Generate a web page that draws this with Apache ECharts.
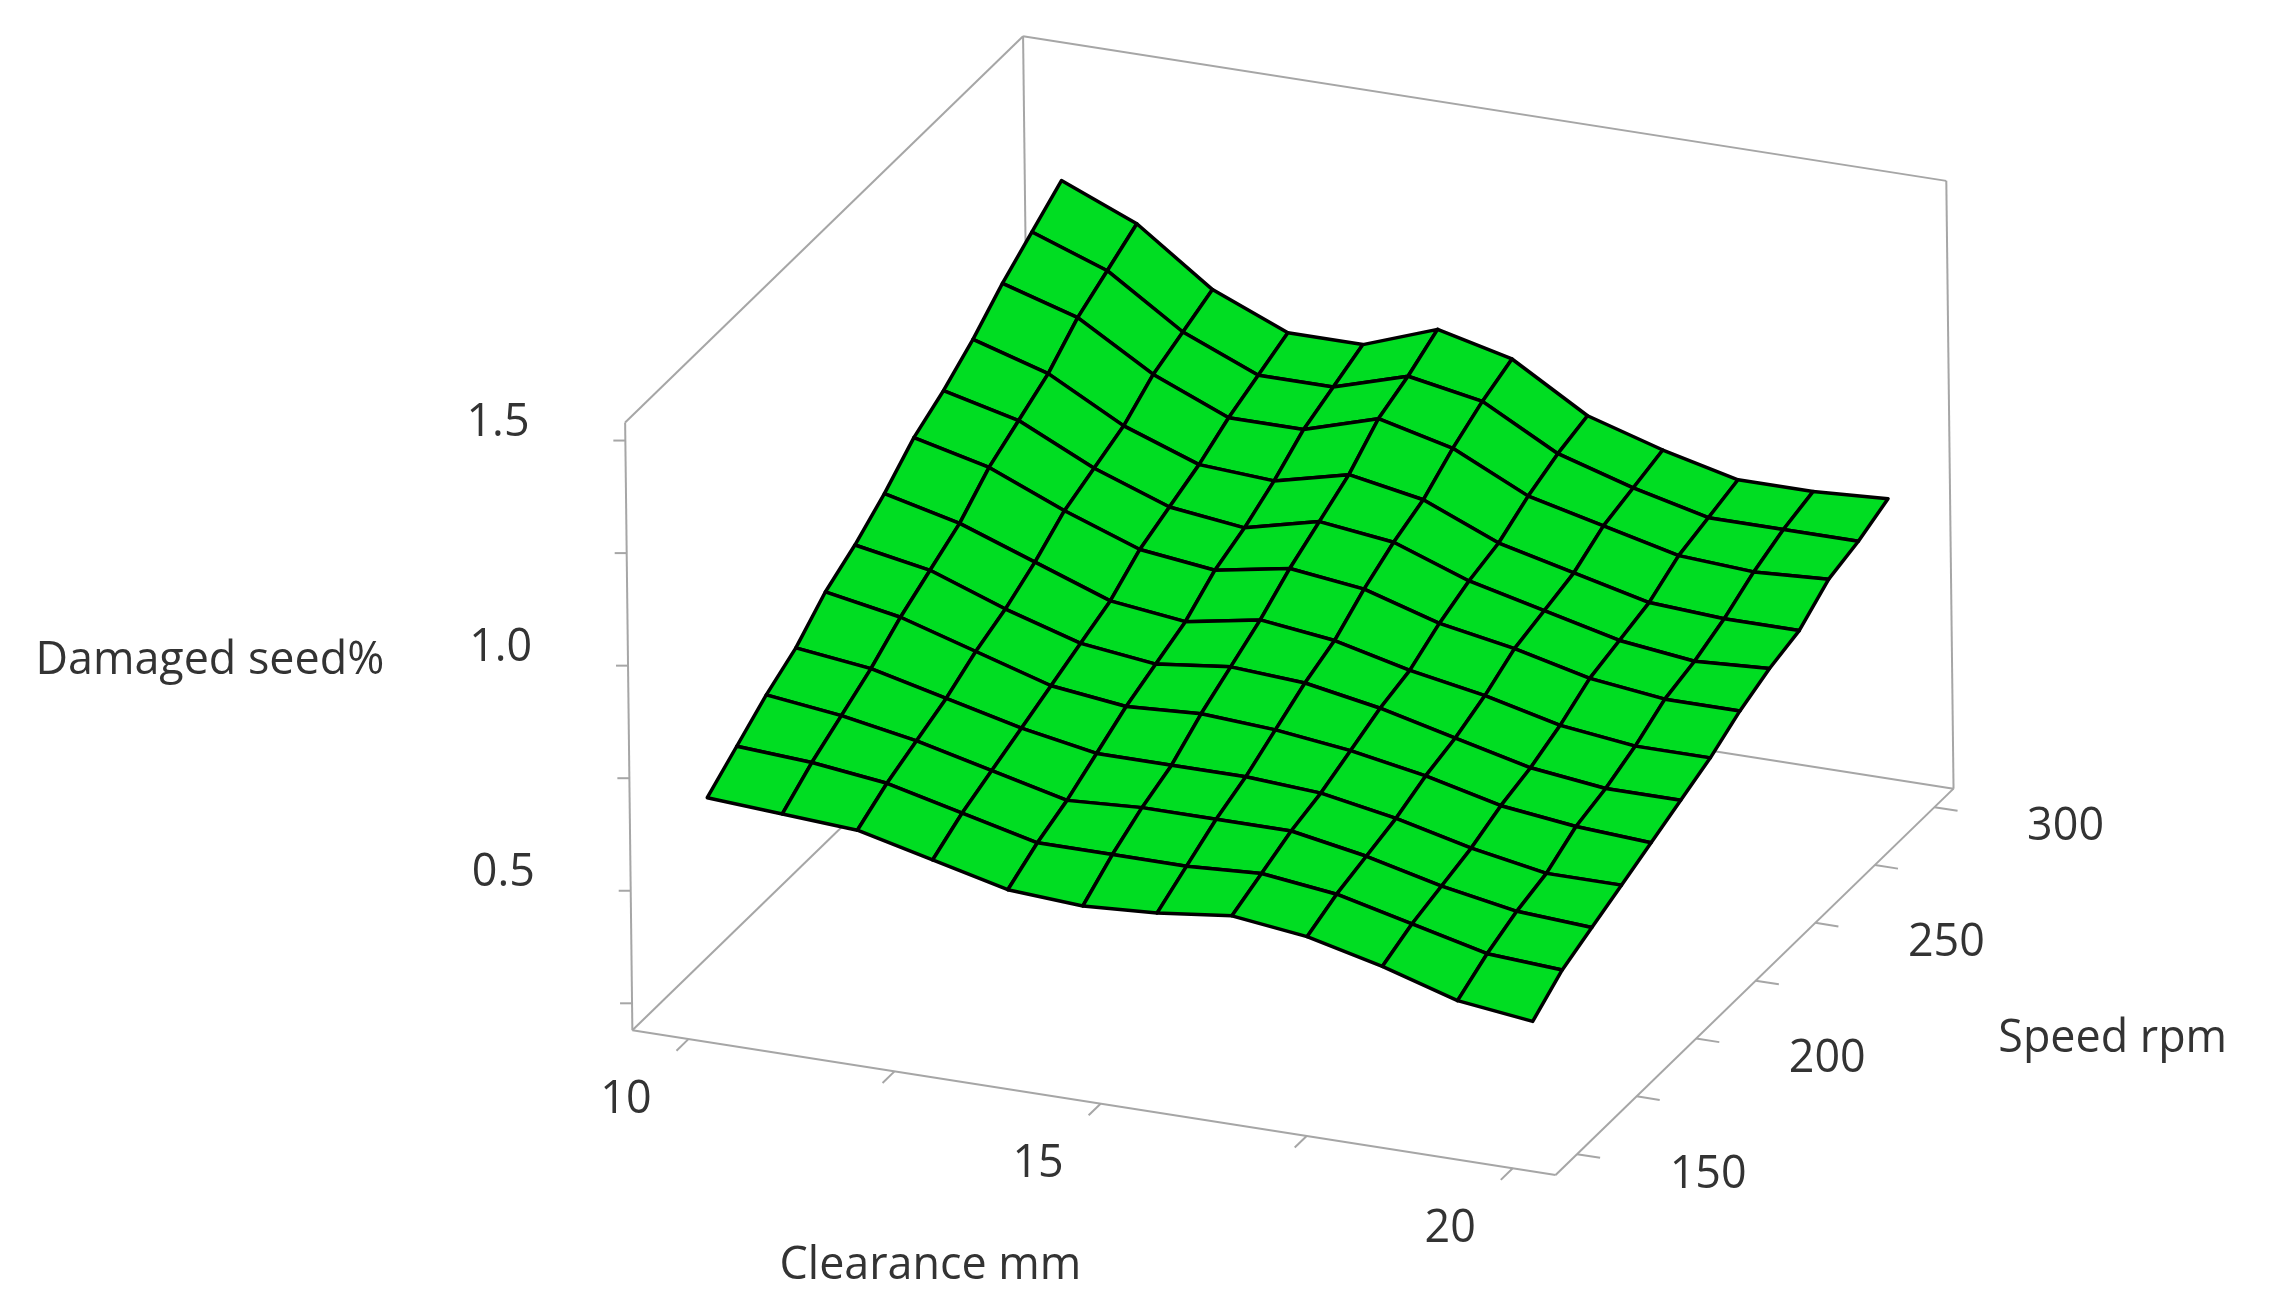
<!DOCTYPE html>
<html>
<head>
<meta charset="utf-8">
<script src="https://cdn.jsdelivr.net/npm/echarts@6/dist/echarts.min.js"></script>
<style>html,body{margin:0;padding:0;background:#fff}#chart{width:2269px;height:1312px}</style>
</head>
<body>
<div id="chart"></div>
<script>
// surface grid (Clearance mm x Speed rpm), z = Damaged seed %
var clearance = [10, 10.91, 11.82, 12.73, 13.64, 14.55, 15.45, 16.36, 17.27, 18.18, 19.09, 20];
var speed = [150, 162.5, 175, 187.5, 200, 212.5, 225, 237.5, 250, 262.5, 275, 287.5, 300];
var damaged = [
    [0.68,0.67,0.66,0.62,0.58,0.57,0.58,0.60,0.58,0.54,0.49,0.47],
    [0.73,0.72,0.70,0.66,0.62,0.62,0.62,0.63,0.61,0.57,0.53,0.52],
    [0.78,0.76,0.73,0.69,0.65,0.66,0.66,0.66,0.63,0.59,0.56,0.55],
    [0.82,0.80,0.76,0.72,0.69,0.69,0.69,0.68,0.65,0.61,0.58,0.58],
    [0.88,0.85,0.80,0.75,0.73,0.74,0.73,0.71,0.68,0.64,0.62,0.61],
    [0.92,0.89,0.83,0.78,0.76,0.78,0.77,0.74,0.70,0.66,0.64,0.64],
    [0.97,0.93,0.87,0.81,0.79,0.82,0.80,0.76,0.73,0.69,0.67,0.67],
    [1.03,0.99,0.92,0.86,0.84,0.87,0.85,0.80,0.77,0.73,0.71,0.71],
    [1.07,1.03,0.95,0.89,0.87,0.91,0.89,0.83,0.79,0.75,0.73,0.74],
    [1.12,1.07,0.98,0.92,0.91,0.95,0.92,0.85,0.81,0.77,0.76,0.76],
    [1.18,1.13,1.03,0.96,0.96,1.01,0.97,0.89,0.85,0.81,0.80,0.81],
    [1.23,1.17,1.06,0.99,0.99,1.04,1.01,0.92,0.87,0.83,0.83,0.83],
    [1.28,1.21,1.09,1.02,1.02,1.08,1.04,0.94,0.89,0.85,0.85,0.86]
];
var xTicks = [10, 12.5, 15, 17.5, 20];
var xLabels = [10, 15, 20];
var yTicks = [150, 175, 200, 225, 250, 275, 300];
var yLabels = [150, 200, 250, 300];
var zTicks = [0.25, 0.5, 0.75, 1.0, 1.25, 1.5];
var zLabels = ['0.5', '1.0', '1.5'];

// box ranges
var X0 = 9.32, X1 = 20.52, Y0 = 141, Y1 = 308, Z0 = 0.19, Z1 = 1.54;
var S = 2269 / 1568;   // picture was measured at 1568 px wide
var W = 1568, H = 1312 / S;

// oblique projection into the picture's plane
var proj = function(x, y, z){
    var a = (x - X0) / (X1 - X0), b = (y - Y0) / (Y1 - Y0), c = (z - Z0) / (Z1 - Z0);
    return [437 + 638 * a + 275 * b - 5 * c, 712 + 100 * a - 267 * b - 420 * c];
};
var depth = function(x, y){
    return 100 * (x - X0) / (X1 - X0) - 267 * (y - Y0) / (Y1 - Y0);
};

// cells, far ones first
var cells = [];
for (var j = 0; j < speed.length - 1; j++) {
    for (var i = 0; i < clearance.length - 1; i++) {
        cells.push([i, j, depth((clearance[i] + clearance[i+1]) / 2, (speed[j] + speed[j+1]) / 2)]);
    }
}
cells.sort(function(p, q){ return p[2] - q[2]; });

var edges = [
    [X0,Y0,Z0, X0,Y0,Z1], [X0,Y1,Z0, X0,Y1,Z1], [X1,Y1,Z0, X1,Y1,Z1],
    [X0,Y0,Z1, X0,Y1,Z1], [X0,Y1,Z1, X1,Y1,Z1],
    [X0,Y0,Z0, X1,Y0,Z0], [X1,Y0,Z0, X1,Y1,Z0], [X0,Y1,Z0, X1,Y1,Z0], [X0,Y0,Z0, X0,Y1,Z0]
];
xTicks.forEach(function(v){
    edges.push([v, Y0, Z0, v, Y0 - 0.03 * (Y1 - Y0), Z0]);
});
yTicks.forEach(function(v){
    edges.push([X1, v, Z0, X1 + 0.025 * (X1 - X0), v, Z0]);
});

var fontFamily = '"Open Sans", "Noto Sans", sans-serif';
var txtColor = '#333';
var fs = 31 * S;

var labels = [];
xLabels.forEach(function(v){
    var p = proj(v, Y0 - 0.157 * (Y1 - Y0), Z0);
    labels.push([p[0], p[1], String(v)]);
});
yLabels.forEach(function(v){
    var p = proj(X1 + 0.142 * (X1 - X0), v, Z0);
    labels.push([p[0], p[1], String(v)]);
});

var chart = echarts.init(document.getElementById('chart'));

var option = {
    backgroundColor: '#fff',
    animation: false,
    grid: {left: 0, right: 0, top: 0, bottom: 0},
    xAxis: {type: 'value', min: 0, max: W, show: false},
    yAxis: {type: 'value', min: 0, max: H, inverse: true, show: false},
    series: [
        {
            type: 'custom',
            data: edges,
            renderItem: function(params, api){
                var e = edges[params.dataIndex];
                var p1 = api.coord(proj(e[0], e[1], e[2])), p2 = api.coord(proj(e[3], e[4], e[5]));
                return {type: 'line', shape: {x1: p1[0], y1: p1[1], x2: p2[0], y2: p2[1]},
                    style: {stroke: '#a6a6a6', lineWidth: 2}};
            }
        },
        {
            type: 'custom',
            data: zTicks,
            renderItem: function(params, api){
                var p = api.coord(proj(X0, Y0, zTicks[params.dataIndex]));
                return {type: 'line', shape: {x1: p[0] - 12, y1: p[1], x2: p[0], y2: p[1]},
                    style: {stroke: '#a6a6a6', lineWidth: 2}};
            }
        },
        {
            type: 'custom',
            data: cells,
            renderItem: function(params, api){
                var c = cells[params.dataIndex], i = c[0], j = c[1];
                var pts = [[i, j], [i + 1, j], [i + 1, j + 1], [i, j + 1]].map(function(k){
                    return api.coord(proj(clearance[k[0]], speed[k[1]], damaged[k[1]][k[0]]));
                });
                return {type: 'polygon', shape: {points: pts},
                    style: {fill: '#00dd22', stroke: '#000', lineWidth: 3.5, lineJoin: 'round'}};
            }
        },
        {
            type: 'custom',
            data: labels,
            renderItem: function(params, api){
                var l = labels[params.dataIndex];
                var p = api.coord([l[0], l[1]]);
                return {type: 'text', x: p[0], y: p[1],
                    style: {text: l[2], fill: txtColor, font: fs + 'px ' + fontFamily, align: 'center', verticalAlign: 'middle'}};
            }
        },
        {
            type: 'custom',
            data: zLabels,
            renderItem: function(params, api){
                var v = parseFloat(zLabels[params.dataIndex]);
                var p = api.coord(proj(X0, Y0, v));
                return {type: 'text', x: p[0] - 88 * S, y: p[1] - 12 * S,
                    style: {text: zLabels[params.dataIndex], fill: txtColor, font: fs + 'px ' + fontFamily, align: 'center', verticalAlign: 'middle'}};
            }
        }
    ],
    graphic: [
        {type: 'text', x: 145 * S, y: 457 * S, style: {text: 'Damaged seed%', fill: txtColor, font: fs + 'px ' + fontFamily, align: 'center', verticalAlign: 'middle'}},
        {type: 'text', x: 643 * S, y: 875 * S, style: {text: 'Clearance mm', fill: txtColor, font: fs + 'px ' + fontFamily, align: 'center', verticalAlign: 'middle'}},
        {type: 'text', x: 1460 * S, y: 718 * S, style: {text: 'Speed rpm', fill: txtColor, font: fs + 'px ' + fontFamily, align: 'center', verticalAlign: 'middle'}}
    ]
};

chart.setOption(option);
</script>
</body>
</html>
